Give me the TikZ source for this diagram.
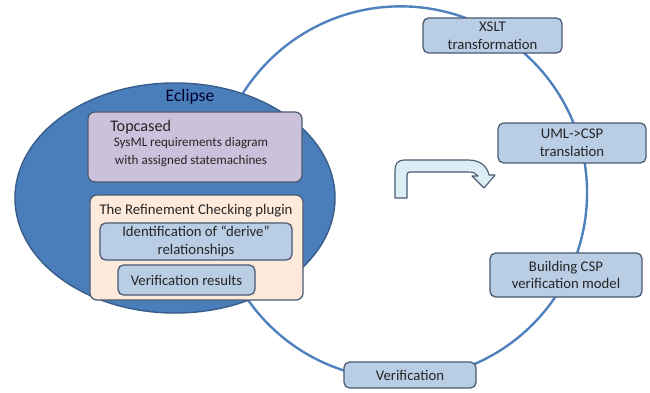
\documentclass[tikz,border=0pt]{standalone}
\usepackage{fontspec}
\setmainfont{Carlito}
\usetikzlibrary{shapes.geometric}
\definecolor{circblue}{HTML}{4F81BD}
\definecolor{ellfill}{HTML}{4A7EBB}
\definecolor{elldraw}{HTML}{385D8A}
\definecolor{boxfill}{HTML}{B9CDE5}
\definecolor{boxdraw}{HTML}{4A5A72}
\definecolor{lavfill}{HTML}{CCC1DA}
\definecolor{peachfill}{HTML}{FDEADA}
\definecolor{arrfill}{HTML}{DBEEF4}
\definecolor{txtdark}{HTML}{262626}
\begin{document}
\begin{tikzpicture}[x=0.025cm,y=-0.025cm,
    stepbox/.style={draw=boxdraw,line width=0.9pt,fill=boxfill,rounded corners=4pt,
      align=center,inner sep=0pt,text=txtdark,font=\fontsize{10.5}{12.5}\selectfont},
    groupbox/.style={draw=boxdraw,line width=0.9pt,rounded corners=5pt,inner sep=0pt}]
  \useasboundingbox (0,0) rectangle (650,393);
  \draw[circblue,line width=1.7pt] (400.6,192.8) circle[radius=4.66cm];

  \node[draw=elldraw,line width=1pt,fill=ellfill,ellipse,minimum width=8cm,minimum height=5.75cm,inner sep=0pt]
    (ecl) at (175,198) {};
  \node[text=black!70!blue!60!black,font=\fontsize{12.5}{14}\selectfont] (ecllbl) at (190,97) {Eclipse};

  \node[groupbox,fill=lavfill,minimum width=5.35cm,minimum height=1.75cm] (tcd) at (195,147) {};
  \node[anchor=west,text=txtdark,font=\fontsize{11.5}{13}\selectfont,inner sep=0pt] (tcdlbl) at (110,127) {Topcased};
  \node[align=center,text=txtdark,font=\fontsize{9.3}{13}\selectfont,inner sep=0pt] (tcdtxt) at (191,152)
    {SysML requirements diagram\\with assigned statemachines};

  \node[groupbox,fill=peachfill,minimum width=5.325cm,minimum height=2.625cm] (rcp) at (196.5,247.5) {};
  \node[text=txtdark,font=\fontsize{10.5}{12.5}\selectfont,inner sep=0pt] (rcplbl) at (196,211) {The Refinement Checking plugin};
  \node[stepbox,minimum width=4.8cm,minimum height=0.925cm] (idr) at (196,241.5)
    {Identification of ``derive''\\relationships};
  \node[stepbox,minimum width=3.425cm,minimum height=0.75cm] (vres) at (186.5,280) {Verification results};

  \node[stepbox,minimum width=3.475cm,minimum height=0.875cm] (xslt) at (492.5,35.5) {XSLT\\transformation};
  \node[stepbox,minimum width=3.7cm,minimum height=1cm] (uml) at (572,143) {UML->CSP\\translation};
  \node[stepbox,minimum width=3.8cm,minimum height=1.1cm] (bld) at (566,275) {Building CSP\\verification model};
  \node[stepbox,minimum width=3.3cm,minimum height=0.65cm] (ver) at (410,375) {Verification};

  \draw[fill=arrfill,draw=boxdraw,line width=0.8pt,line join=round]
    (395,198) -- (395,170) .. controls (395,164) and (398,160) .. (404,160)
    -- (468,160) .. controls (480,160) and (487,166) .. (489,175)
    -- (495,175) -- (484,188) -- (472,176) -- (478,176)
    .. controls (476,173) and (473,172) .. (468,172)
    -- (410,172) .. controls (408,172) and (407,173) .. (407,175) -- (407,198) -- cycle;
\end{tikzpicture}
\end{document}
